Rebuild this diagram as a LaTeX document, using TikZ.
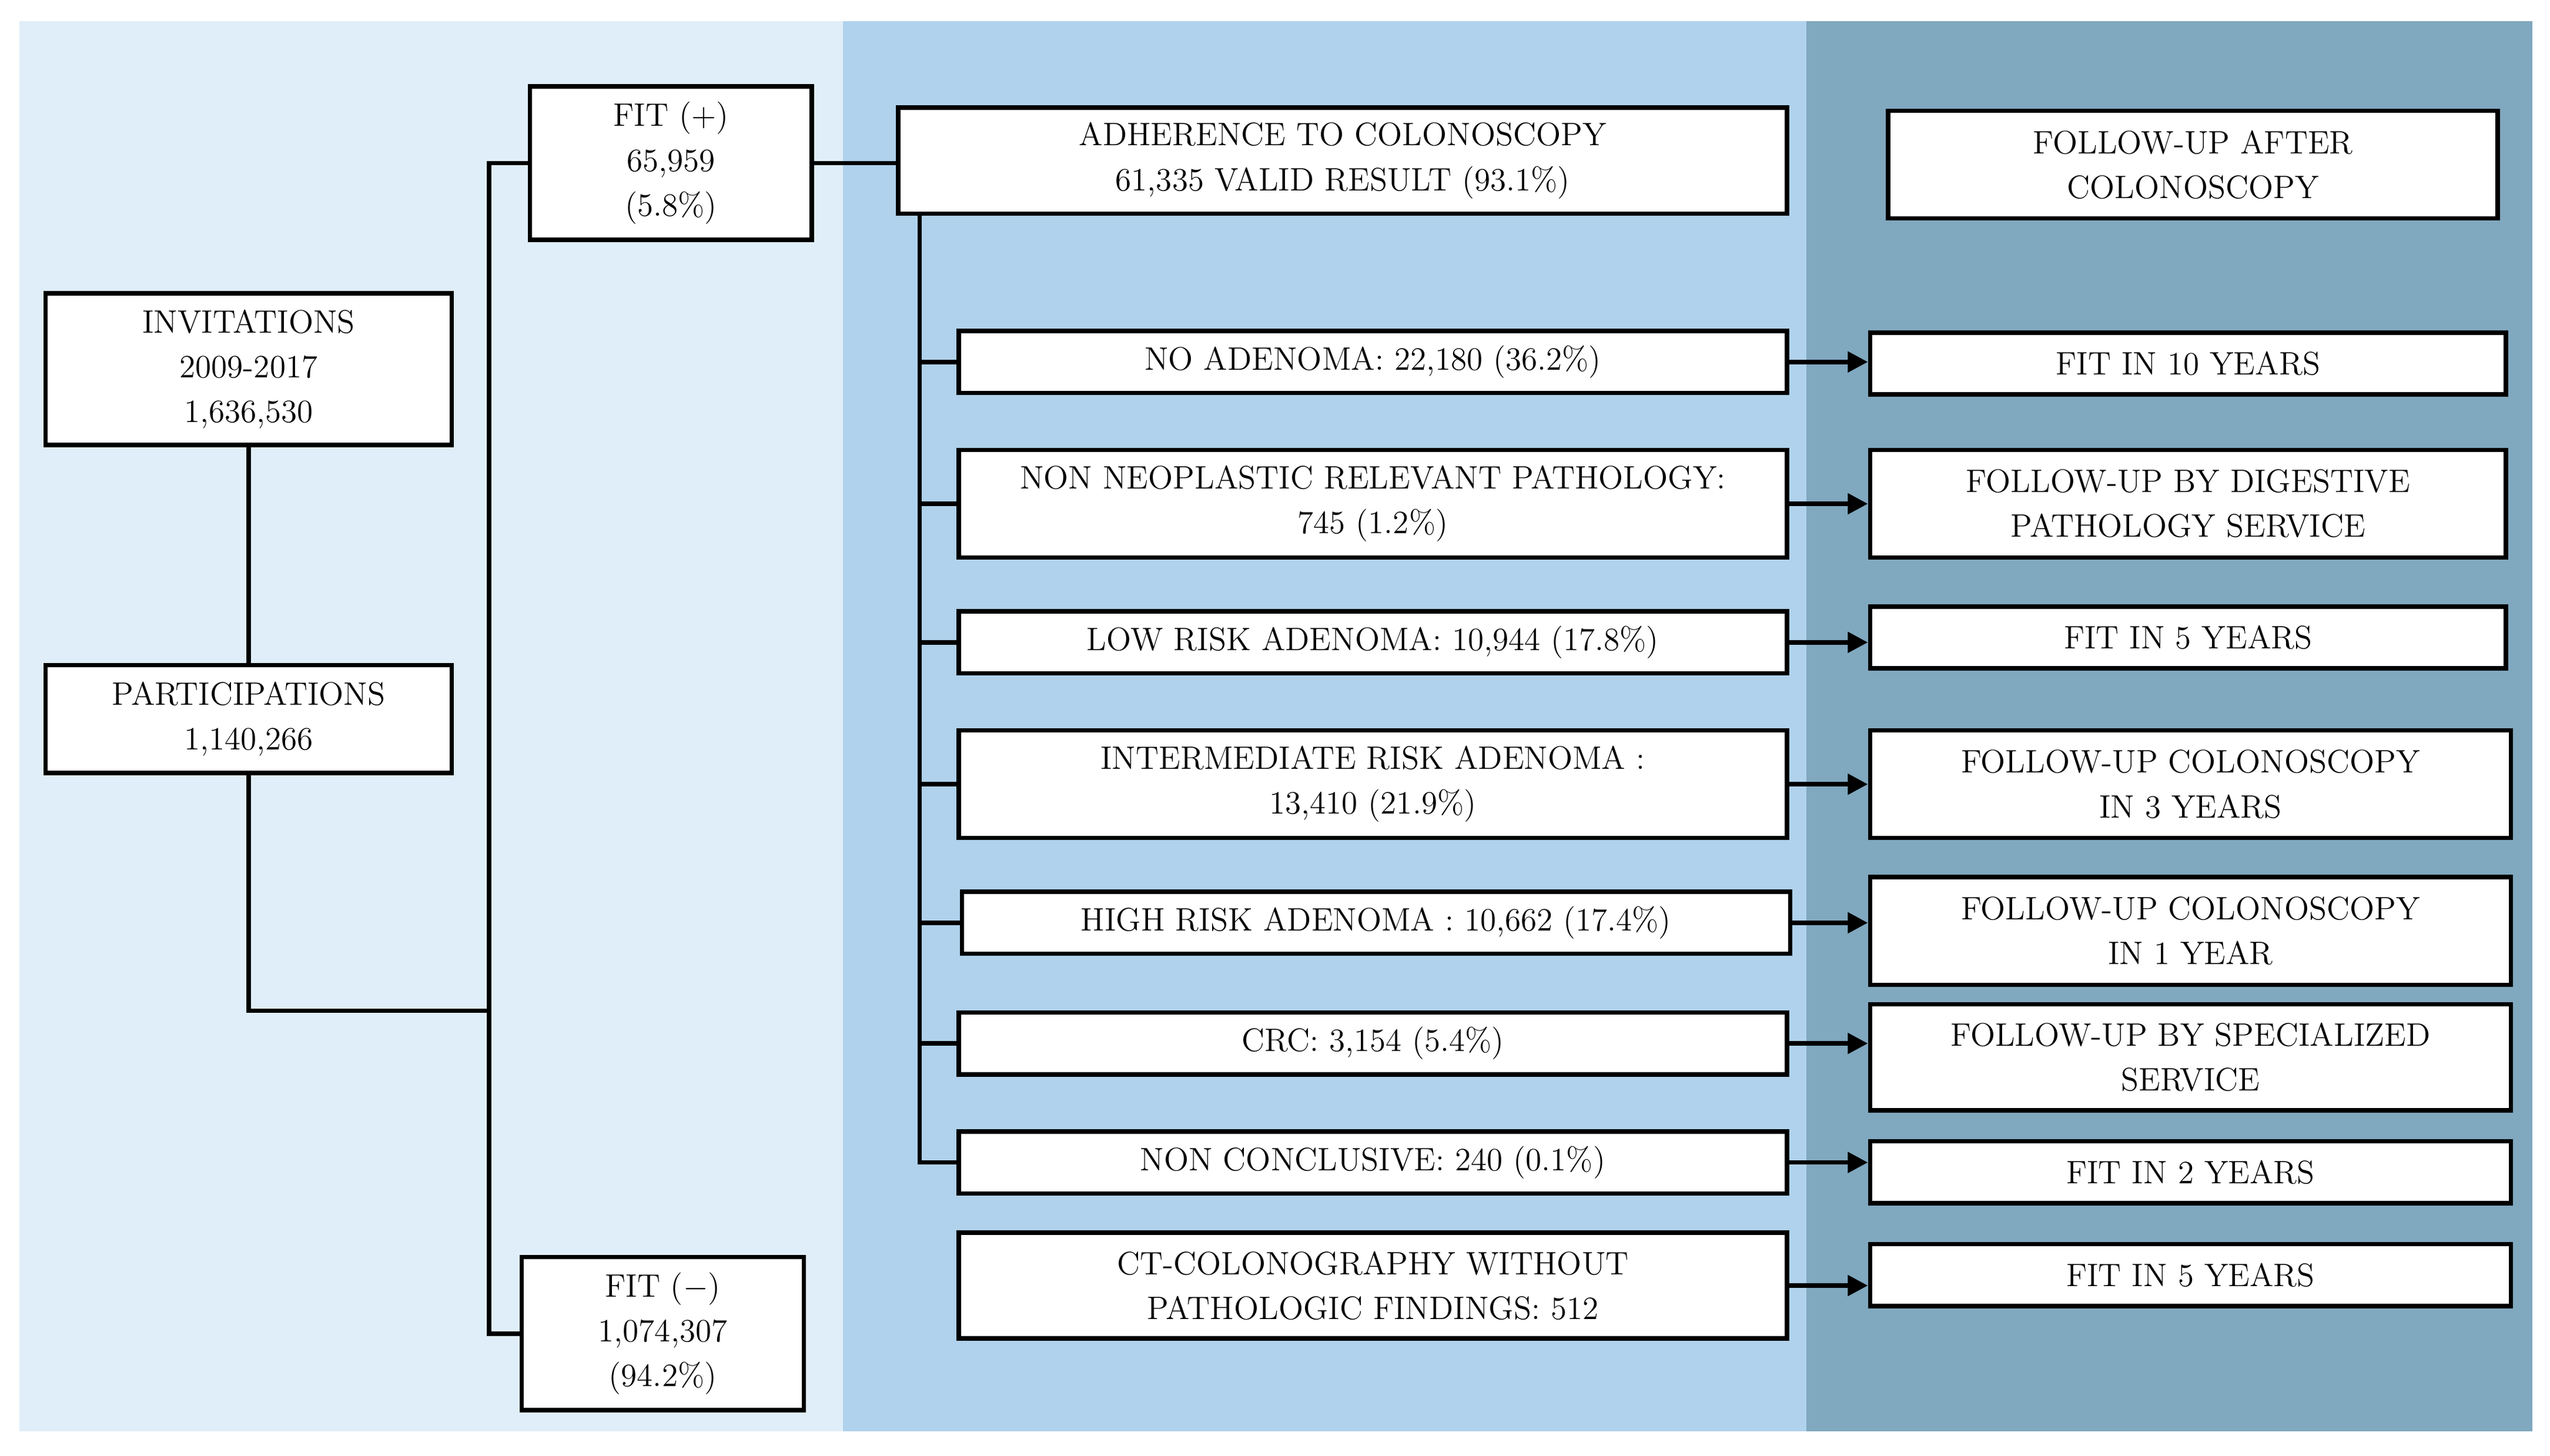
\documentclass[tikz,border=0pt]{standalone}
\usetikzlibrary{arrows.meta}
\definecolor{paneA}{HTML}{E0EEF9}
\definecolor{paneB}{HTML}{B0D2EC}
\definecolor{paneC}{HTML}{80A8BF}
\tikzset{
  box/.style={draw, fill=white, line width=2pt, align=center, inner sep=1pt,
    font=\fontsize{14.5}{20}\selectfont},
  wd/.style={minimum width=#1*0.0256cm},
  ht/.style={minimum height=#1*0.0256cm},
  link/.style={line width=2pt},
  arr/.style={line width=2pt, -{Triangle[length=9pt,width=9pt]}}
}
\begin{document}
\begin{tikzpicture}[x=0.0256cm, y=-0.0256cm]
  \useasboundingbox (0,0) rectangle (1564,893);

  % Background panels
  \fill[paneA] (12,13) rectangle (517,878);
  \fill[paneB] (517,13) rectangle (1108,878);
  \fill[paneC] (1108,13) rectangle (1553,878);

  % Left column
  \node[box, wd=249, ht=93] (inv) at (152.5,226.5) {INVITATIONS\\2009-2017\\1,636,530};
  \node[box, wd=249, ht=66] (part) at (152.5,441) {PARTICIPATIONS\\1,140,266};
  \node[box, wd=173, ht=94] (fitp) at (411.5,100) {FIT (+)\\65,959\\(5.8\%)};
  \node[box, wd=173, ht=94] (fitn) at (406.5,818) {FIT ($-$)\\1,074,307\\(94.2\%)};
  \coordinate (split) at (300,620);

  % Middle column
  \node[box, wd=545, ht=65] (adh) at (823.5,98.5) {ADHERENCE TO COLONOSCOPY\\61,335 VALID RESULT (93.1\%)};
  \node[box, wd=508, ht=38] (noad) at (842,222) {NO ADENOMA: 22,180 (36.2\%)};
  \node[box, wd=508, ht=66] (nonneo) at (842,309) {NON NEOPLASTIC RELEVANT PATHOLOGY:\\745 (1.2\%)};
  \node[box, wd=508, ht=38] (low) at (842,394) {LOW RISK ADENOMA: 10,944 (17.8\%)};
  \node[box, wd=508, ht=66] (inter) at (842,481) {INTERMEDIATE RISK ADENOMA :\\13,410 (21.9\%)};
  \node[box, wd=508, ht=38] (high) at (844,566) {HIGH RISK ADENOMA : 10,662 (17.4\%)};
  \node[box, wd=508, ht=38] (crc) at (842,640) {CRC: 3,154 (5.4\%)};
  \node[box, wd=508, ht=38] (noncon) at (842,713) {NON CONCLUSIVE: 240 (0.1\%)};
  \node[box, wd=508, ht=65] (ct) at (842,788.5) {CT-COLONOGRAPHY WITHOUT\\PATHOLOGIC FINDINGS: 512};
  \coordinate (trunk) at (564,131);

  % Right column
  \node[box, wd=374, ht=66] (head) at (1345,101) {FOLLOW-UP AFTER\\COLONOSCOPY};
  \node[box, wd=390, ht=38] (r1) at (1342,223) {FIT IN 10 YEARS};
  \node[box, wd=390, ht=66] (r2) at (1342,309) {FOLLOW-UP BY DIGESTIVE\\PATHOLOGY SERVICE};
  \node[box, wd=390, ht=38] (r3) at (1342,391) {FIT IN 5 YEARS};
  \node[box, wd=393, ht=66] (r4) at (1343.5,481) {FOLLOW-UP COLONOSCOPY\\IN 3 YEARS};
  \node[box, wd=393, ht=66] (r5) at (1343.5,571) {FOLLOW-UP COLONOSCOPY\\IN 1 YEAR};
  \node[box, wd=393, ht=65] (r6) at (1343.5,648.5) {FOLLOW-UP BY SPECIALIZED\\SERVICE};
  \node[box, wd=393, ht=38] (r7) at (1343.5,719) {FIT IN 2 YEARS};
  \node[box, wd=393, ht=38] (r8) at (1343.5,782) {FIT IN 5 YEARS};

  % Connectors
  \draw[link] (inv) -- (part);
  \draw[link] (part.south) |- (split);
  \draw[link] (fitp.west) -| (split) |- (fitn.west);
  \draw[link] (fitp.east) -- (fitp.east -| adh.west);
  \draw[link] (trunk) |- (noncon.west);
  \foreach \b in {noad, nonneo, low, inter, high, crc}
    \draw[link] (trunk |- \b.west) -- (\b.west);

  \foreach \a/\b in {noad/r1, nonneo/r2, low/r3, inter/r4, high/r5, crc/r6, noncon/r7, ct/r8}
    \draw[arr] (\a.east) -- (\a.east -| \b.west);
\end{tikzpicture}
\end{document}
